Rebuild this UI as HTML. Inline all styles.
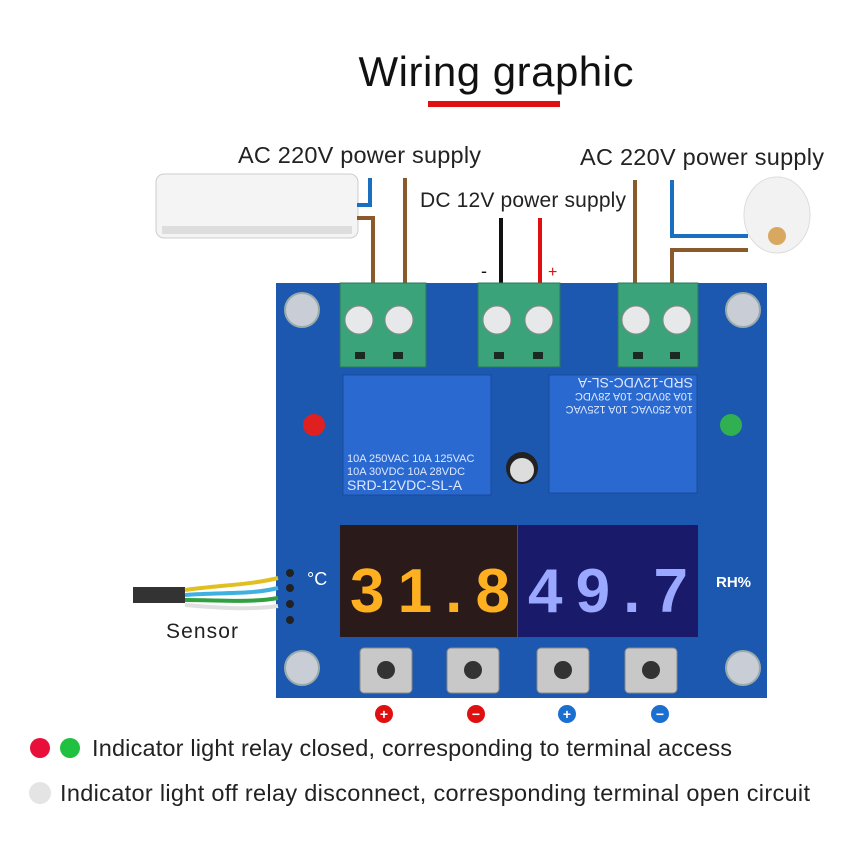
<!DOCTYPE html>
<html><head><meta charset="utf-8"><style>
html,body{margin:0;padding:0;background:#fff}
svg{display:block}
text{font-family:"Liberation Sans","Noto Sans CJK SC",sans-serif}
</style></head><body>
<svg width="861" height="861" viewBox="0 0 861 861" xmlns="http://www.w3.org/2000/svg">
<rect width="861" height="861" fill="#fff"/>
<text x="496" y="86" font-size="42" text-anchor="middle" fill="#111" textLength="275">Wiring graphic</text>
<rect x="428" y="101" width="132" height="6" fill="#e01010"/>
<text x="238" y="163" font-size="23.5" fill="#222" textLength="243">AC 220V power supply</text>
<text x="580" y="165" font-size="23.5" fill="#222" textLength="244">AC 220V power supply</text>
<text x="420" y="207" font-size="21" fill="#222" textLength="206">DC 12V power supply</text>
<!-- air conditioner -->
<rect x="156" y="174" width="202" height="64" rx="8" fill="#f4f4f4" stroke="#ccc"/>
<rect x="162" y="226" width="190" height="8" fill="#ddd"/>
<!-- humidifier -->
<ellipse cx="777" cy="215" rx="33" ry="38" fill="#f2f2f2" stroke="#ddd"/>
<circle cx="777" cy="236" r="9" fill="#d8a860"/>
<!-- wires -->
<g fill="none" stroke-width="4">
<path d="M357 205 H370 V178" stroke="#1a6fc0"/>
<path d="M357 218 H373 V283" stroke="#8a5a2a"/>
<path d="M405 178 V283" stroke="#8a5a2a"/>
<path d="M501 218 V283" stroke="#111"/>
<path d="M540 218 V283" stroke="#e01010"/>
<path d="M635 180 V283" stroke="#8a5a2a"/>
<path d="M672 180 V236 H748" stroke="#1a6fc0"/>
<path d="M748 250 H672 V283" stroke="#8a5a2a"/>
</g>
<text x="481" y="277" font-size="18" fill="#111">-</text>
<text x="548" y="277" font-size="16" fill="#e01010">+</text>
<!-- board -->
<rect x="276" y="283" width="491" height="415" fill="#1c58b0"/>
<g fill="#c8cdd6" stroke="#9aa" stroke-width="2">
<circle cx="302" cy="310" r="17"/><circle cx="743" cy="310" r="17"/>
<circle cx="302" cy="668" r="17"/><circle cx="743" cy="668" r="17"/>
</g>
<!-- terminals -->
<g fill="#3aa37a" stroke="#2a7a5a">
<rect x="340" y="283" width="86" height="84"/>
<rect x="478" y="283" width="82" height="84"/>
<rect x="618" y="283" width="80" height="84"/>
</g>
<g fill="#e6e8ea" stroke="#888">
<circle cx="359" cy="320" r="14"/><circle cx="399" cy="320" r="14"/>
<circle cx="497" cy="320" r="14"/><circle cx="539" cy="320" r="14"/>
<circle cx="636" cy="320" r="14"/><circle cx="677" cy="320" r="14"/>
</g>
<g fill="#1a2a22">
<rect x="355" y="352" width="10" height="7"/><rect x="393" y="352" width="10" height="7"/>
<rect x="494" y="352" width="10" height="7"/><rect x="533" y="352" width="10" height="7"/>
<rect x="633" y="352" width="10" height="7"/><rect x="670" y="352" width="10" height="7"/>
</g>
<!-- relays -->
<rect x="343" y="375" width="148" height="120" fill="#2a6ad0" stroke="#1a4a9a"/>
<rect x="549" y="375" width="148" height="118" fill="#2a6ad0" stroke="#1a4a9a"/>
<text x="347" y="462" font-size="11" fill="#dfe8ff">10A 250VAC 10A 125VAC</text>
<text x="347" y="475" font-size="11" fill="#dfe8ff">10A 30VDC 10A 28VDC</text>
<text x="347" y="490" font-size="14" fill="#dfe8ff">SRD-12VDC-SL-A</text>
<g transform="rotate(180 623 434)">
<text x="553" y="462" font-size="11" fill="#dfe8ff">10A 250VAC 10A 125VAC</text>
<text x="553" y="475" font-size="11" fill="#dfe8ff">10A 30VDC 10A 28VDC</text>
<text x="553" y="490" font-size="14" fill="#dfe8ff">SRD-12VDC-SL-A</text>
</g>
<circle cx="522" cy="468" r="16" fill="#222"/><circle cx="522" cy="470" r="12" fill="#ddd"/>
<!-- LEDs -->
<circle cx="314" cy="425" r="11" fill="#e02020"/>
<circle cx="731" cy="425" r="11" fill="#30b050"/>
<!-- displays -->
<rect x="340" y="525" width="177" height="112" fill="#2a1a1a"/>
<rect x="518" y="525" width="180" height="112" fill="#1a1a6a"/>
<text x="350" y="612" font-size="62" font-family="Liberation Mono" fill="#ffb020" font-weight="bold" textLength="160">31.8</text>
<text x="528" y="612" font-size="62" font-family="Liberation Mono" fill="#9aa8ff" font-weight="bold" textLength="160">49.7</text>
<text x="307" y="585" font-size="18" fill="#fff">°C</text>
<text x="716" y="587" font-size="15" fill="#fff" font-weight="bold">RH%</text>
<g fill="#222"><circle cx="290" cy="573" r="4"/><circle cx="290" cy="588" r="4"/><circle cx="290" cy="604" r="4"/><circle cx="290" cy="620" r="4"/></g>
<!-- buttons -->
<g fill="#c8c8c8" stroke="#888">
<rect x="360" y="648" width="52" height="45" rx="4"/><rect x="447" y="648" width="52" height="45" rx="4"/>
<rect x="537" y="648" width="52" height="45" rx="4"/><rect x="625" y="648" width="52" height="45" rx="4"/>
</g>
<g fill="#333"><circle cx="386" cy="670" r="9"/><circle cx="473" cy="670" r="9"/><circle cx="563" cy="670" r="9"/><circle cx="651" cy="670" r="9"/></g>
<!-- sensor cable -->
<path d="M133 595 H185" stroke="#333" stroke-width="16"/>
<path d="M185 590 C220 585 250 585 278 578" stroke="#e0c020" stroke-width="4" fill="none"/>
<path d="M185 595 C220 592 250 595 278 588" stroke="#40b0e0" stroke-width="4" fill="none"/>
<path d="M185 600 C220 600 250 603 278 598" stroke="#30a040" stroke-width="4" fill="none"/>
<path d="M185 605 C220 608 250 610 278 606" stroke="#e0e0e0" stroke-width="4" fill="none"/>
<text x="166" y="638" font-size="21" fill="#222" textLength="72">Sensor</text>
<!-- +/- markers -->
<g font-size="14" font-weight="bold" fill="#fff" text-anchor="middle">
<circle cx="384" cy="714" r="9" fill="#e01010"/><text x="384" y="719">+</text>
<circle cx="476" cy="714" r="9" fill="#e01010"/><text x="476" y="719">−</text>
<circle cx="567" cy="714" r="9" fill="#1a6fd0"/><text x="567" y="719">+</text>
<circle cx="660" cy="714" r="9" fill="#1a6fd0"/><text x="660" y="719">−</text>
</g>
<circle cx="40" cy="748" r="10" fill="#e8103a"/>
<circle cx="70" cy="748" r="10" fill="#20c040"/>
<text x="92" y="756" font-size="23.5" fill="#222" textLength="640">Indicator light relay closed, corresponding to terminal access</text>
<circle cx="40" cy="793" r="11" fill="#e4e4e4"/>
<text x="60" y="801" font-size="23.5" fill="#222" textLength="750">Indicator light off relay disconnect, corresponding terminal open circuit</text>
</svg>
</body></html>
